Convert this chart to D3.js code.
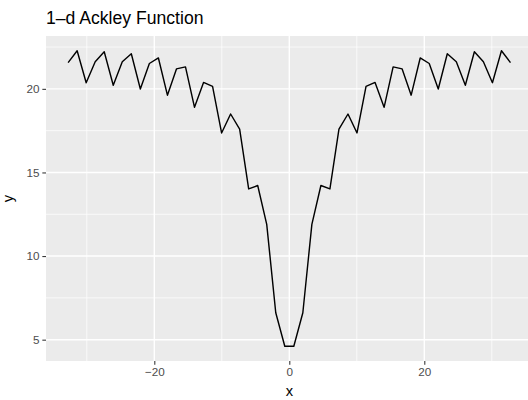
<!DOCTYPE html>
<html>
<head>
<meta charset="utf-8">
<script src="https://cdn.jsdelivr.net/npm/d3@7"></script>
<style>
  body { margin: 0; background: #fff; overflow: hidden; }
  svg { display: block; font-family: "Liberation Sans", Arial, sans-serif; }
</style>
</head>
<body>
<div id="chart"></div>
<script>
var xs = [-32.768, -31.431, -30.093, -28.756, -27.418, -26.081, -24.743, -23.406, -22.068, -20.731,
          -19.393, -18.056, -16.718, -15.381, -14.043, -12.706, -11.368, -10.031, -8.694, -7.356,
          -6.019, -4.681, -3.344, -2.006, -0.669,
          0.669, 2.006, 3.344, 4.681, 6.019, 7.356, 8.694, 10.031, 11.368, 12.706,
          14.043, 15.381, 16.718, 18.056, 19.393, 20.731, 22.068, 23.406, 24.743, 26.081,
          27.418, 28.756, 30.093, 31.431, 32.768];
var ys = [21.570, 22.277, 20.367, 21.618, 22.216, 20.212, 21.618, 22.097, 19.993, 21.515,
          21.847, 19.620, 21.191, 21.314, 18.893, 20.382, 20.151, 17.361, 18.496, 17.586,
          14.016, 14.218, 11.898, 6.612, 4.608,
          4.608, 6.612, 11.898, 14.218, 14.016, 17.586, 18.496, 17.361, 20.151, 20.382,
          18.893, 21.314, 21.191, 19.620, 21.847, 21.515, 19.993, 22.097, 21.618, 20.212,
          22.216, 21.618, 20.367, 22.277, 21.570];
var xTicks = [-20, 0, 20],
    xMinor = [-30, -10, 10, 30],
    yTicks = [5, 10, 15, 20],
    yMinor = [7.5, 12.5, 17.5, 22.5];
var title = "1\u2013d Ackley Function";

var data = xs.map(function(d, i) { return { x: d, y: ys[i] }; });

var W = 528, H = 400;
var panel = { left: 46, right: 532.6, top: 36, bottom: 361 };

// ggplot style 5% expansion
var xr = d3.extent(xs), yr = d3.extent(ys);
var xpad = (xr[1] - xr[0]) * 0.05, ypad = (yr[1] - yr[0]) * 0.05;

var xScale = d3.scaleLinear().domain([xr[0] - xpad, xr[1] + xpad]).range([panel.left, panel.right]),
    yScale = d3.scaleLinear().domain([yr[0] - ypad, yr[1] + ypad]).range([panel.bottom, panel.top]);

var svg = d3.select("#chart").append("svg")
    .attr("width", W)
    .attr("height", H);

svg.append("rect")
    .attr("x", panel.left)
    .attr("y", panel.top)
    .attr("width", panel.right - panel.left)
    .attr("height", panel.bottom - panel.top)
    .attr("fill", "#EBEBEB");

// minor grid
svg.selectAll(".xminor").data(xMinor).enter().append("line")
    .attr("x1", function(d) { return xScale(d); })
    .attr("x2", function(d) { return xScale(d); })
    .attr("y1", panel.top).attr("y2", panel.bottom)
    .attr("stroke", "#fff").attr("stroke-width", 0.71);
svg.selectAll(".yminor").data(yMinor).enter().append("line")
    .attr("y1", function(d) { return yScale(d); })
    .attr("y2", function(d) { return yScale(d); })
    .attr("x1", panel.left).attr("x2", panel.right)
    .attr("stroke", "#fff").attr("stroke-width", 0.71);

// major grid
svg.selectAll(".xmajor").data(xTicks).enter().append("line")
    .attr("x1", function(d) { return xScale(d); })
    .attr("x2", function(d) { return xScale(d); })
    .attr("y1", panel.top).attr("y2", panel.bottom)
    .attr("stroke", "#fff").attr("stroke-width", 1.42);
svg.selectAll(".ymajor").data(yTicks).enter().append("line")
    .attr("y1", function(d) { return yScale(d); })
    .attr("y2", function(d) { return yScale(d); })
    .attr("x1", panel.left).attr("x2", panel.right)
    .attr("stroke", "#fff").attr("stroke-width", 1.42);

// axes
var xAxis = d3.axisBottom(xScale).tickValues(xTicks).tickSize(3.67).tickPadding(2.9)
    .tickFormat(function(d) { return d < 0 ? "\u2212" + Math.abs(d) : d; });
var yAxis = d3.axisLeft(yScale).tickValues(yTicks).tickSize(3.67).tickPadding(2.9);

var gx = svg.append("g")
    .attr("transform", "translate(0," + panel.bottom + ")")
    .call(xAxis);
var gy = svg.append("g")
    .attr("transform", "translate(" + panel.left + ",0)")
    .call(yAxis);

[gx, gy].forEach(function(g) {
    g.select(".domain").remove();
    g.selectAll(".tick line").attr("stroke", "#333333").attr("stroke-width", 1.07);
    g.selectAll(".tick text")
        .attr("fill", "#4D4D4D")
        .style("font-size", "11.7px")
        .style("font-family", "'Liberation Sans', Arial, sans-serif");
});

// the curve
var line = d3.line()
    .x(function(d) { return xScale(d.x); })
    .y(function(d) { return yScale(d.y); });

svg.append("path")
    .datum(data)
    .attr("d", line)
    .attr("fill", "none")
    .attr("stroke", "#000")
    .attr("stroke-width", 1.42)
    .attr("stroke-linejoin", "round");

// labels
svg.append("text")
    .attr("x", 289.3)
    .attr("y", 396)
    .attr("text-anchor", "middle")
    .style("font-size", "14.7px")
    .text("x");

svg.append("text")
    .attr("transform", "translate(13," + (panel.top + panel.bottom) / 2 + ") rotate(-90)")
    .attr("text-anchor", "middle")
    .style("font-size", "14.7px")
    .text("y");

svg.append("text")
    .attr("x", panel.left)
    .attr("y", 23.5)
    .style("font-size", "17.6px")
    .text(title);
</script>
</body>
</html>
